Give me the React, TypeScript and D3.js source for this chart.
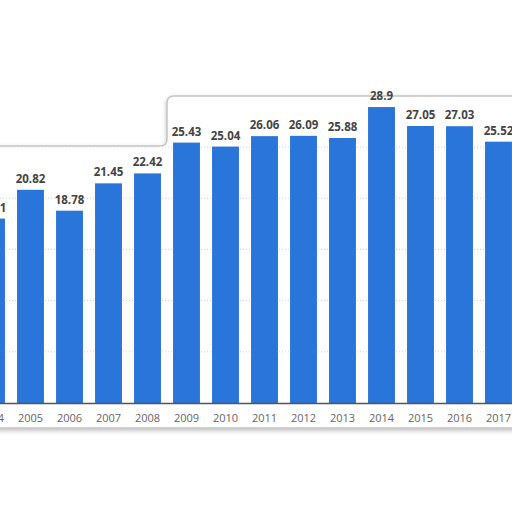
import React from "react";
import * as d3 from "d3";

const years = ["2004", "2005", "2006", "2007", "2008", "2009", "2010", "2011", "2012", "2013", "2014", "2015", "2016", "2017"];
const values = [18.01, 20.82, 18.78, 21.45, 22.42, 25.43, 25.04, 26.06, 26.09, 25.88, 28.9, 27.05, 27.03, 25.52];
const valueLabels = ["18.01", "20.82", "18.78", "21.45", "22.42", "25.43", "25.04", "26.06", "26.09", "25.88", "28.9", "27.05", "27.03", "25.52"];
const gridTicks = [5, 10, 15, 20, 25];

const App = () => {
  const width = 512,
    height = 512;
  const baseline = 403;

  const x = d3
    .scaleBand<string>()
    .domain(years)
    .range([-28, 518])
    .paddingInner(0.31)
    .paddingOuter(0.155);

  const y = d3.scaleLinear().domain([0, 30]).range([baseline, 95.8]);

  // torn "card" outline behind the chart
  const frame =
    "M-6,146 H160 Q167,146 167,139 V103 Q167,96 174,96 H518 V428 H-6 Z";

  return (
    <svg
      width={width}
      height={height}
      style={{ position: "absolute", left: 0, top: 0, background: "#fff" }}
      fontFamily="'Open Sans', sans-serif"
    >
      <defs>
        <filter id="shadow" x="-10%" y="-10%" width="120%" height="130%">
          <feDropShadow dx="0" dy="2" stdDeviation="2" floodColor="#000" floodOpacity="0.25" />
        </filter>
      </defs>
      <path d={frame} fill="#fff" stroke="#c4c4c4" strokeWidth={1.5} filter="url(#shadow)" />

      {/* dotted gridlines */}
      {gridTicks.map((t) => (
        <line
          key={t}
          x1={0}
          x2={width}
          y1={y(t)}
          y2={y(t)}
          stroke="#d0d0d0"
          strokeWidth={1}
          strokeDasharray="1,2"
        />
      ))}

      {years.map((yr, i) => (
        <rect
          key={yr}
          x={x(yr)}
          y={y(values[i])}
          width={x.bandwidth()}
          height={baseline - y(values[i])}
          fill="#2a75d9"
        />
      ))}

      {years.map((yr, i) => (
        <text
          key={"v" + yr}
          x={(x(yr) as number) + x.bandwidth() / 2}
          y={y(values[i]) - 7}
          textAnchor="middle"
          fontSize={11.5}
          fontWeight="bold"
          fill="#444"
        >
          {valueLabels[i]}
        </text>
      ))}

      <line x1={0} x2={width} y1={baseline + 0.5} y2={baseline + 0.5} stroke="#555" strokeWidth={1.5} />

      {years.map((yr) => (
        <text
          key={"x" + yr}
          x={(x(yr) as number) + x.bandwidth() / 2}
          y={422}
          textAnchor="middle"
          fontSize={11}
          fill="#666"
        >
          {yr}
        </text>
      ))}
    </svg>
  );
};

export default App;
